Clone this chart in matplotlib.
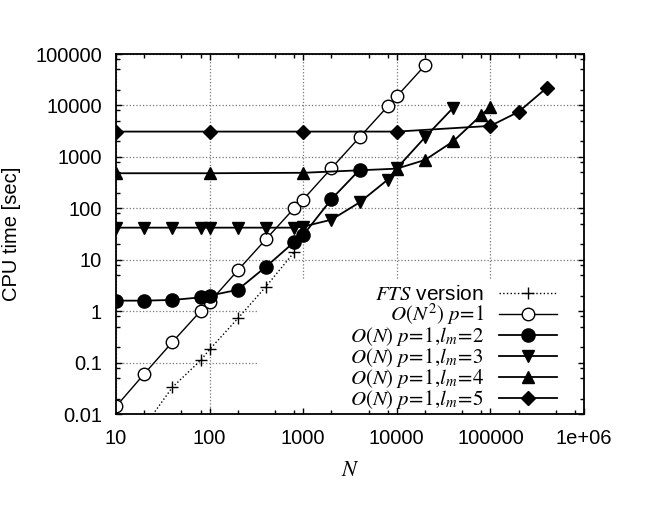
import matplotlib

matplotlib.use("Agg")

import matplotlib.pyplot as plt
from matplotlib.path import Path
from matplotlib.ticker import FuncFormatter, LogLocator, NullFormatter

plt.rcParams["font.family"] = ["Liberation Sans", "DejaVu Sans"]
plt.rcParams["mathtext.fontset"] = "stix"

# CPU time [sec] vs N
n_fts = [20, 40, 80, 100, 200, 400, 800]
t_fts = [0.0057, 0.033, 0.11, 0.18, 0.72, 3.0, 14]

n_n2 = [10, 20, 40, 80, 100, 200, 400, 800, 1000, 2000, 4000, 8000, 10000, 20000]
t_n2 = [0.014, 0.06, 0.25, 1.0, 1.5, 6.2, 25, 100, 148, 600, 2400, 9600, 15000, 60000]

n_lm2 = [10, 20, 40, 80, 100, 200, 400, 800, 1000, 2000, 4000]
t_lm2 = [1.6, 1.6, 1.65, 1.85, 2.0, 2.6, 7.3, 22, 30, 150, 560]

n_lm3 = [10, 20, 40, 80, 100, 200, 400, 800, 1000, 2000, 4000, 8000, 10000, 20000, 40000]
t_lm3 = [42, 42, 42, 42, 42, 42, 42, 42, 44, 60, 130, 360, 600, 2400, 9000]

n_lm4 = [10, 100, 1000, 10000, 20000, 40000, 80000, 100000]
t_lm4 = [480, 480, 490, 590, 870, 2000, 6500, 9500]

n_lm5 = [10, 100, 1000, 10000, 100000, 200000, 400000]
t_lm5 = [3100, 3100, 3100, 3100, 4000, 7500, 22000]

labels = [
    r"$\mathit{FTS}$ version",
    r"$O(N^2)\ p\!=\!1$",
    r"$O(N)\ p\!=\!1,\!l_m\!=\!2$",
    r"$O(N)\ p\!=\!1,\!l_m\!=\!3$",
    r"$O(N)\ p\!=\!1,\!l_m\!=\!4$",
    r"$O(N)\ p\!=\!1,\!l_m\!=\!5$",
]

fig = plt.figure(figsize=(6.55, 5.25), dpi=100)
ax = fig.add_axes([116 / 655, 111 / 525, 468 / 655, 360 / 525])

ax.plot(n_fts, t_fts, ls=":", lw=1.0, color="black", marker="+", ms=9, mew=1.0, label=labels[0])
ax.plot(n_n2, t_n2, ls="-", lw=1.0, color="black", marker="o", ms=9, mfc="white", mew=1.0, label=labels[1])
ax.plot(n_lm2, t_lm2, ls="-", lw=1.3, color="black", marker="o", ms=9.5, label=labels[2])
ax.plot(n_lm3, t_lm3, ls="-", lw=1.3, color="black", marker="v", ms=9, label=labels[3])
ax.plot(n_lm4, t_lm4, ls="-", lw=1.3, color="black", marker="^", ms=9, label=labels[4])
ax.plot(n_lm5, t_lm5, ls="-", lw=1.3, color="black", marker="D", ms=7, label=labels[5])

ax.set_xscale("log")
ax.set_yscale("log")
ax.set_xlim(10, 1e6)
ax.set_ylim(0.01, 1e5)

fmt = FuncFormatter(lambda v, pos: "%g" % v)
for axis in (ax.xaxis, ax.yaxis):
    axis.set_major_locator(LogLocator(base=10, numticks=20))
    axis.set_minor_locator(LogLocator(base=10, subs=(2, 5, 8), numticks=20))
    axis.set_major_formatter(fmt)
    axis.set_minor_formatter(NullFormatter())

ax.tick_params(which="both", direction="in", top=True, right=True, width=1.0, labelsize=14.5)
ax.tick_params(which="major", length=4.5)
ax.tick_params(which="minor", length=2.7)
ax.tick_params(axis="x", pad=11)
ax.tick_params(axis="y", pad=10)
for s in ax.spines.values():
    s.set_linewidth(1.3)

ax.set_axisbelow(True)
ax.grid(which="major", ls=":", lw=0.9, color="#777777")

leg = ax.legend(
    loc="lower right", bbox_to_anchor=(0.942, 0.008), frameon=False,
    markerfirst=False, fontsize=15, handlelength=2.8, handletextpad=0.7,
    labelspacing=-0.1, borderpad=0, borderaxespad=0,
)

fig.text(21 / 655, 1 - 234 / 525, "CPU time [sec]", rotation=90, ha="right", va="center", fontsize=14.5)
fig.text(350 / 655, 1 - 470 / 525, "$N$", ha="center", va="center", fontsize=16)

# gnuplot blanks the grid behind the key: clip grid lines out of that box
fig.canvas.draw()
key_hole = Path([(0, 0), (0.303, 0), (0.303, 0.372), (0.987, 0.372), (0.987, 0),
                 (1, 0), (1, 1), (0, 1), (0, 0)])
for gl in ax.xaxis.get_gridlines() + ax.yaxis.get_gridlines():
    gl.set_clip_path(key_hole, ax.transAxes)

fig.savefig("out.png", dpi=100)
